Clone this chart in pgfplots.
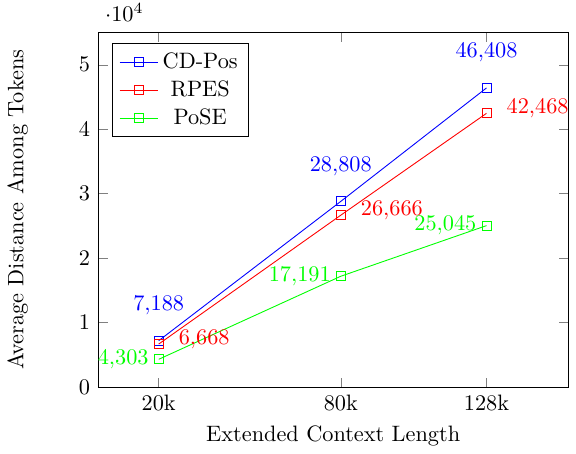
\documentclass[border=0pt]{standalone}
\usepackage{pgfplots}
\pgfplotsset{compat=1.18}
\begin{document}
\begin{tikzpicture}
\begin{axis}[
  scale only axis,
  width=211pt, height=159pt,
  xmin=0, xmax=155,
  ymin=0, ymax=55000,
  xtick={20,80,128},
  xticklabels={20k,80k,128k},
  ytick={0,10000,20000,30000,40000,50000},
  xlabel={Extended Context Length},
  ylabel={Average Distance Among Tokens},
  ylabel shift=16pt,
  legend pos=north west,
  nodes near coords,
  point meta=explicit,
]
\addplot[blue, mark=square, nodes near coords style={anchor=south, yshift=8pt, xshift=0pt}] coordinates {(20,7188)[7188] (80,28808)[28808] (128,46408)[46408]};
\addlegendentry{CD-Pos}
\addplot[red, mark=square, nodes near coords style={anchor=west, xshift=5.5pt, yshift=2pt}] coordinates {(20,6668)[6668] (80,26666)[26666] (128,42468)[42468]};
\addlegendentry{RPES}
\addplot[green, mark=square, nodes near coords style={anchor=east, xshift=-1pt, yshift=0pt}] coordinates {(20,4303)[4303] (80,17191)[17191] (128,25045)[25045]};
\addlegendentry{PoSE}
\end{axis}
\path ([yshift=1.5pt]current bounding box.north);
\end{tikzpicture}
\end{document}
